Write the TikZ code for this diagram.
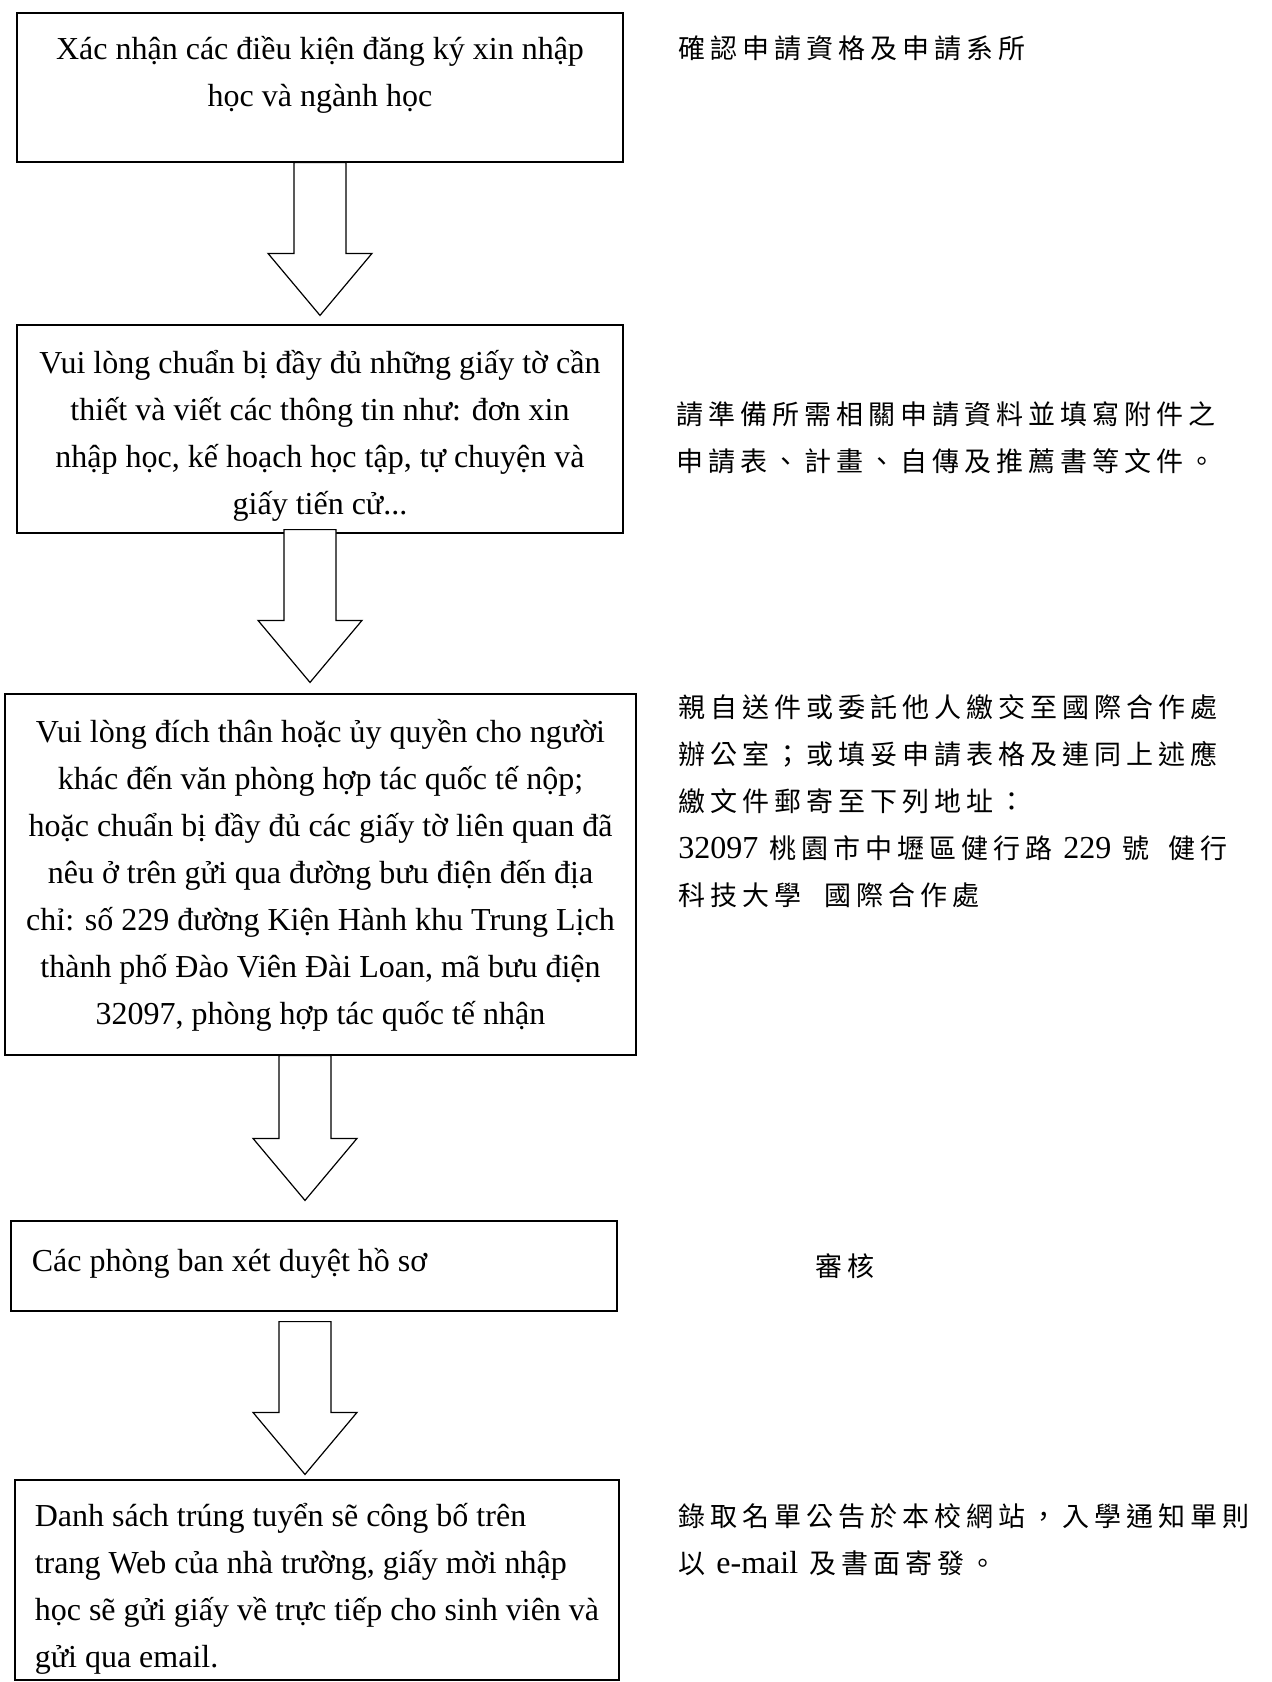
\documentclass[tikz,border=0pt]{standalone}
\usepackage{fontspec}
\setmainfont{Liberation Serif}
\newfontfamily\cjkfont[LetterSpace=18.5]{Noto Sans CJK TC}
\usetikzlibrary{positioning,calc}

% hollow down arrow: from node, to node, x shift, top offset, tip gap (px)
\newcommand{\hollowarrow}[5]{%
  \draw[hollow] let \p1=($(#1.south)+(#3,#4)$), \p2=($(#2.north)+(#3,-#5)$) in
    (\x1-13pt,\y1) -- (\x1-13pt,\y2+31pt) -- (\x1-26pt,\y2+31pt) -- (\x1,\y2)
    -- (\x1+26pt,\y2+31pt) -- (\x1+13pt,\y2+31pt) -- (\x1+13pt,\y1) -- cycle;}
% latin words inside the chinese notes
\newcommand{\lat}[1]{{\fontsize{16}{23.5}\selectfont\rmfamily #1}}

\begin{document}
\begin{tikzpicture}[
    x=0.5pt, y=-0.5pt,
    box/.style={rectangle, draw=black, line width=0.6pt, inner sep=0pt},
    hollow/.style={draw=black, fill=white, line width=0.6pt, line join=miter},
    steptext/.style={font=\fontsize{16}{23.5}\selectfont, align=center, inner sep=0pt,
        execute at begin node=\rule{0pt}{16pt}},
    note/.style={font=\cjkfont\fontsize{13.5}{23.5}\selectfont, align=left, inner sep=0pt,
        anchor=north west, execute at begin node=\rule{0pt}{14pt}},
]
\useasboundingbox (0,0) rectangle (1271,1682);

% --- Steps ---
\node[box, minimum width=303pt, minimum height=74.5pt] (b1) at (320,87.5) {};
\node[box, minimum width=303pt, minimum height=104pt] (b2) at (320,429) {};
\node[box, minimum width=315.5pt, minimum height=180.5pt] (b3) at (320.5,874.5) {};
\node[box, minimum width=303pt, minimum height=45pt] (b4) at (314,1266) {};
\node[box, minimum width=302pt, minimum height=100pt] (b5) at (317,1580) {};

\node[steptext, below=11.8pt of b1.north] (t1) {Xác nhận các điều kiện đăng ký xin nhập\\
    học và ngành học};
\node[steptext, below=12.8pt of b2.north] (t2) {Vui lòng chuẩn bị đầy đủ những giấy tờ cần\\
    thiết và viết các thông tin như: đơn xin\\
    nhập học, kế hoạch học tập, tự chuyện và\\
    giấy tiến cử...};
\node[steptext, below=12.8pt of b3.north] (t3) {Vui lòng đích thân hoặc ủy quyền cho người\\
    khác đến văn phòng hợp tác quốc tế nộp;\\
    hoặc chuẩn bị đầy đủ các giấy tờ liên quan đã\\
    nêu ở trên gửi qua đường bưu điện đến địa\\
    chỉ: số 229 đường Kiện Hành khu Trung Lịch\\
    thành phố Đào Viên Đài Loan, mã bưu điện\\
    32097, phòng hợp tác quốc tế nhận};
\node[steptext, align=left, below right=9.3pt and 10.5pt of b4.north west] (t4) {Các phòng ban xét duyệt hồ sơ};
\node[steptext, align=left, below right=11.8pt and 10pt of b5.north west] (t5) {Danh sách trúng tuyển sẽ công bố trên\\
    trang Web của nhà trường, giấy mời nhập\\
    học sẽ gửi giấy về trực tiếp cho sinh viên và\\
    gửi qua email.};

% --- Arrows ---
\hollowarrow{b1}{b2}{0}{0}{9}
\hollowarrow{b2}{b3}{-10}{-4}{11}
\hollowarrow{b3}{b4}{-15.5}{0}{20}
\hollowarrow{b4}{b5}{-9}{10}{5}

% --- Notes (Chinese) ---
\node[note] (n1) at (678,30) {確認申請資格及申請系所};
\node[note] (n2) at (676,401) {請準備所需相關申請資料並填寫附件之\\
    申請表、計畫、自傳及推薦書等文件。};
\node[note] (n3) at (678,694) {親自送件或委託他人繳交至國際合作處\\
    辦公室；或填妥申請表格及連同上述應\\
    繳文件郵寄至下列地址：\\
    \lat{32097} 桃園市中壢區健行路 \lat{229} 號\hspace{4pt} 健行\\
    科技大學\hspace{6pt} 國際合作處};
\node[note] (n4) at (815,1248) {審核};
\node[note] (n5) at (678,1503) {錄取名單公告於本校網站，入學通知單則\\
    以 \lat{e-mail} 及書面寄發。};

\end{tikzpicture}
\end{document}
